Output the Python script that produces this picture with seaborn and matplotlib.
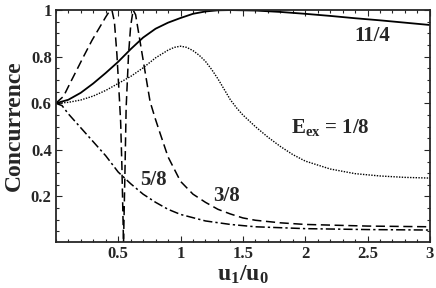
import numpy as np
import pandas as pd
import matplotlib
matplotlib.use("Agg")
import matplotlib.pyplot as plt
import seaborn as sns
from matplotlib.ticker import MultipleLocator

# curves, x = u1/u0, y = concurrence
x_1_8 = [0, 0.1, 0.2, 0.3, 0.4, 0.5, 0.6, 0.7, 0.8, 0.9, 0.95, 1.0, 1.05, 1.1, 1.15,
         1.2, 1.25, 1.3, 1.35, 1.4, 1.45, 1.5, 1.6, 1.7, 1.8, 1.9, 2.0, 2.2, 2.4, 2.6,
         2.8, 3.0]
y_1_8 = [0.6, 0.604, 0.614, 0.631, 0.655, 0.685, 0.715, 0.752, 0.795, 0.828, 0.84, 0.845,
         0.84, 0.826, 0.806, 0.78, 0.745, 0.705, 0.66, 0.615, 0.58, 0.55, 0.50, 0.455,
         0.415, 0.38, 0.352, 0.318, 0.298, 0.288, 0.282, 0.279]

x_11_4 = [0, 0.1, 0.2, 0.3, 0.4, 0.5, 0.6, 0.7, 0.8, 0.9, 1.0, 1.1, 1.2, 1.3, 1.4,
          1.6, 1.8, 2.0, 2.2, 2.4, 2.6, 2.8, 3.0]
y_11_4 = [0.6, 0.615, 0.645, 0.685, 0.73, 0.778, 0.832, 0.882, 0.92, 0.946, 0.966,
          0.984, 0.994, 0.999, 1.0, 0.998, 0.992, 0.984, 0.975, 0.965, 0.956, 0.946, 0.936]

x_3_8 = [0, 0.062, 0.115, 0.17, 0.222, 0.29, 0.356, 0.40, 0.43, 0.45, 0.47, 0.49, 0.51,
         0.52, 0.53, 0.543, 0.555, 0.564, 0.583, 0.60, 0.62, 0.64, 0.676, 0.716, 0.756,
         0.8, 0.837, 0.9, 1.0, 1.1, 1.2, 1.3, 1.4, 1.5, 1.6, 1.8, 2.0, 2.5, 3.0]
y_3_8 = [0.6, 0.63, 0.687, 0.745, 0.80, 0.87, 0.93, 0.97, 0.995, 1.0, 0.95, 0.81, 0.62,
         0.52, 0.33, 0.0, 0.32, 0.58, 0.807, 0.93, 1.0, 0.98, 0.864, 0.735, 0.607, 0.53,
         0.47, 0.37, 0.265, 0.21, 0.175, 0.145, 0.125, 0.108, 0.098, 0.087, 0.08, 0.073, 0.07]

x_5_8 = [0, 0.05, 0.1, 0.2, 0.3, 0.4, 0.5, 0.6, 0.7, 0.8, 0.9, 1.0, 1.2, 1.4, 1.6,
         2.0, 2.5, 3.0]
y_5_8 = [0.6, 0.59, 0.555, 0.495, 0.435, 0.375, 0.305, 0.255, 0.21, 0.175, 0.145,
         0.123, 0.095, 0.08, 0.07, 0.062, 0.058, 0.056]

sns.set_theme(style="ticks")
plt.rcParams['font.family'] = ['Liberation Serif', 'DejaVu Serif']
plt.rcParams['font.weight'] = 'bold'
plt.rcParams['mathtext.fontset'] = 'custom'
plt.rcParams['mathtext.rm'] = 'Liberation Serif:bold'
plt.rcParams['mathtext.bf'] = 'Liberation Serif:bold'
plt.rcParams['mathtext.default'] = 'bf'

fig = plt.figure(figsize=(4.36, 2.88), dpi=100)
ax = fig.add_axes([0.128, 0.160, 0.858, 0.805])

curves = [
    (x_11_4, y_11_4, (0, ()), 1.3),
    (x_1_8, y_1_8, (0, (1, 1)), 1.0),
    (x_3_8, y_3_8, (0, (6, 3)), 1.1),
    (x_5_8, y_5_8, (0, (6, 2, 1.5, 2)), 1.1),
]
for xs, ys, ls, lw in curves:
    df = pd.DataFrame({"x": xs, "y": ys})
    sns.lineplot(data=df, x="x", y="y", sort=False, ax=ax, color="black",
                 linestyle=ls, linewidth=lw)

ax.set_xlim(0, 3)
ax.set_ylim(0.005, 1.0)
ax.xaxis.set_minor_locator(MultipleLocator(0.1))
ax.yaxis.set_minor_locator(MultipleLocator(0.05))
ax.set_xticks([0.5, 1, 1.5, 2, 2.5, 3])
ax.set_xticklabels(["0.5", "1", "1.5", "2", "2.5", "3"])
ax.set_yticks([0.2, 0.4, 0.6, 0.8, 1.0])
ax.set_yticklabels(["0.2", "0.4", "0.6", "0.8", "1"])
ax.tick_params(which="both", direction="in", top=True, right=True, width=0.8,
               labelsize=12, pad=3)
ax.tick_params(which="major", length=4)
ax.tick_params(which="minor", length=2)
for sp in ax.spines.values():
    sp.set_linewidth(1.3)
for lab in ax.get_xticklabels() + ax.get_yticklabels():
    lab.set_fontweight('bold')

ax.set_xlabel(r"u$_1$/u$_0$", fontsize=17, fontweight='bold', labelpad=1)
ax.set_ylabel("Concurrence", fontsize=17, fontweight='bold', labelpad=4)

ax.text(2.535, 0.889, "11/4", fontsize=15, fontweight='bold', ha='center', va='center')
ax.text(2.2, 0.494, r"E$_{\mathbf{ex}}$ = 1/8", fontsize=15, fontweight='bold',
        ha='center', va='center')
ax.text(0.78, 0.27, "5/8", fontsize=15, fontweight='bold', ha='center', va='center')
ax.text(1.365, 0.20, "3/8", fontsize=15, fontweight='bold', ha='center', va='center')

fig.savefig("out.png", dpi=100)
